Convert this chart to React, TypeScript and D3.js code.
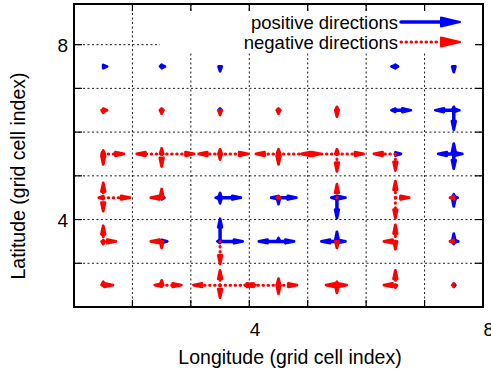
import React, { useEffect, useRef } from "react";
import * as d3 from "d3";

// grid cell centres (columns = longitude, rows = latitude, top row first)
const lonCenters = [1.5, 2.5, 3.5, 4.5, 5.5, 6.5, 7.5];
const latCenters = [7.5, 6.5, 5.5, 4.5, 3.5, 2.5];
const xTicks = [1, 2, 3, 4, 5, 6, 7, 8];
const yTicks = [2, 3, 4, 5, 6, 7, 8];
const xTickLabels = [4, 8];
const yTickLabels = [4, 8];

// signed flux per direction (cell units); > 0 drawn blue, < 0 drawn red dotted
const eastFlux = [
  [0.09, 0.08, 0, 0, 0, 0.07, 0],
  [-0.09, 0, 0, 0, 0, 0.29, 0.12],
  [-0.38, -0.58, -0.5, -0.74, -0.48, 0.12, 0.17],
  [-0.48, 0.07, 0.38, 0.33, 0.17, -0.26, 0.09],
  [-0.24, 0.12, 0.41, 0.29, 0.17, 0, 0.1],
  [-0.19, -0.36, -0.63, -0.34, -0.19, 0, 0.05],
];
const westFlux = [
  [0, 0, 0, 0, 0, 0.09, 0],
  [0, 0, 0, 0, 0, 0.09, 0.34],
  [0, -0.45, -0.39, -0.41, -0.63, -0.39, 0.29],
  [-0.1, -0.21, 0.1, 0.15, 0.12, 0, -0.09],
  [-0.03, -0.21, 0.07, 0.36, 0.29, -0.22, -0.09],
  [0, -0.14, -0.48, -0.6, -0.21, -0.22, -0.05],
];
const northFlux = [
  [0, 0.07, 0, 0, 0, 0, 0],
  [0, -0.07, 0.07, -0.07, -0.11, 0, 0.11],
  [-0.11, -0.16, -0.14, -0.14, -0.14, 0, 0.27],
  [-0.37, -0.23, 0.14, -0.07, -0.34, -0.41, 0.11],
  [-0.39, 0, 0.55, 0.11, 0.25, -0.41, 0.21],
  [-0.11, -0.14, -0.37, -0.18, -0.11, -0.37, 0],
];
const southFlux = [
  [0, 0, 0.14, 0, 0, 0, 0.16],
  [-0.09, -0.11, -0.14, -0.11, -0.18, 0, 0.48],
  [-0.27, -0.32, -0.16, -0.27, -0.43, -0.41, 0.37],
  [-0.34, 0, 0.16, 0.18, 0.5, -0.5, 0.23],
  [-0.09, -0.18, -0.55, 0, -0.18, -0.21, 0.09],
  [0, 0, -0.32, -0.23, -0.21, -0.09, 0],
];

const legendLabels = ["positive directions", "negative directions"];

const BLUE = "#0000ff";
const RED = "#ff0000";
const FONT = "'Liberation Sans', Arial, sans-serif";

const App = () => {
  const ref = useRef<SVGSVGElement>(null);

  useEffect(() => {
    const width = 491;
    const height = 376;
    const margin = { top: 4, right: 8, bottom: 69, left: 74 };

    const svg = d3.select(ref.current);
    svg.selectAll("*").remove();

    const x = d3.scaleLinear().domain([1, 8]).range([margin.left, width - margin.right]);
    const y = d3.scaleLinear().domain([2, 8.93]).range([height - margin.bottom, margin.top]);
    const [x0, x1] = x.range();
    const [y0, y1] = y.range();

    // grid
    const grid = svg.append("g").attr("stroke", "#000").attr("stroke-width", 0.9).attr("stroke-dasharray", "2,2.5");
    grid.selectAll(".vg").data(xTicks.slice(1, -1)).enter().append("line")
      .attr("x1", (d) => x(d)).attr("x2", (d) => x(d)).attr("y1", y1).attr("y2", y0);
    grid.selectAll(".hg").data(yTicks.slice(1)).enter().append("line")
      .attr("x1", x0).attr("x2", x1).attr("y1", (d) => y(d)).attr("y2", (d) => y(d));

    // legend box hides the grid underneath
    svg.append("rect").attr("x", 160).attr("y", 13).attr("width", 318).attr("height", 39).attr("fill", "#fff");

    const drawArrow = (
      g: any, ax: number, ay: number, bx: number, by: number,
      color: string, dotted: boolean, headLen = 10, headW = 1.8
    ) => {
      const dx = bx - ax, dy = by - ay;
      const len = Math.hypot(dx, dy);
      if (len < 0.5) return;
      const ux = dx / len, uy = dy / len;
      const hl = Math.min(headLen, len);
      const hw = Math.max(1.6, (headW * hl) / headLen);
      const cx = bx - ux * hl, cy = by - uy * hl;
      if (len > hl) {
        g.append("line")
          .attr("x1", ax).attr("y1", ay).attr("x2", cx).attr("y2", cy)
          .attr("stroke", color)
          .attr("stroke-width", dotted ? 3 : 3.5)
          .attr("stroke-linecap", "round")
          .attr("stroke-dasharray", dotted ? "0.5,4.5" : null);
      }
      // rounded head: triangle with a thick round-joined outline
      const sw = headLen > 12 ? 2 : 2.8;
      const tx = bx - ux * sw * 0.5, ty = by - uy * sw * 0.5;
      g.append("path")
        .attr("d", `M${tx},${ty}L${cx - uy * hw},${cy + ux * hw}L${cx + uy * hw},${cy - ux * hw}Z`)
        .attr("fill", color).attr("stroke", color)
        .attr("stroke-width", sw).attr("stroke-linejoin", "round");
    };

    const dirs = [
      { vals: eastFlux, ex: 1, ey: 0 },
      { vals: westFlux, ex: -1, ey: 0 },
      { vals: northFlux, ex: 0, ey: 1 },
      { vals: southFlux, ex: 0, ey: -1 },
    ];

    // positive first, negative on top
    [1, -1].forEach((sign) => {
      const g = svg.append("g");
      latCenters.forEach((lat, r) => {
        lonCenters.forEach((lon, c) => {
          dirs.forEach(({ vals, ex, ey }) => {
            const v = vals[r][c];
            if (v === 0 || Math.sign(v) !== sign) return;
            const m = Math.abs(v);
            drawArrow(g, x(lon), y(lat), x(lon + ex * m), y(lat + ey * m), sign > 0 ? BLUE : RED, sign < 0);
          });
        });
      });
    });

    // legend
    const legend = svg.append("g").attr("font-family", FONT).attr("font-size", 18.5);
    legendLabels.forEach((label, i) => {
      const ly = 22 + i * 20;
      legend.append("text").attr("x", 398).attr("y", ly + 6.5).attr("text-anchor", "end").text(label);
      drawArrow(legend, 401, ly, 461, ly, i === 0 ? BLUE : RED, i === 1, 20, 4.5);
    });

    // border + ticks
    const axes = svg.append("g").attr("stroke", "#000");
    xTicks.slice(1, -1).forEach((t) => {
      axes.append("line").attr("x1", x(t)).attr("x2", x(t)).attr("y1", y0).attr("y2", y0 - 7).attr("stroke-width", 1.2);
      axes.append("line").attr("x1", x(t)).attr("x2", x(t)).attr("y1", y1).attr("y2", y1 + 7).attr("stroke-width", 1.2);
    });
    yTicks.slice(1).forEach((t) => {
      axes.append("line").attr("x1", x0).attr("x2", x0 + 8).attr("y1", y(t)).attr("y2", y(t)).attr("stroke-width", 1.2);
      axes.append("line").attr("x1", x1).attr("x2", x1 - 8).attr("y1", y(t)).attr("y2", y(t)).attr("stroke-width", 1.2);
    });
    axes.append("rect").attr("x", x0).attr("y", y1).attr("width", x1 - x0).attr("height", y0 - y1)
      .attr("fill", "none").attr("stroke-width", 2);

    // tick labels
    const labels = svg.append("g").attr("font-family", FONT).attr("font-size", 19).attr("fill", "#000");
    xTickLabels.forEach((t) => {
      labels.append("text").attr("x", x(t) + 0.5).attr("y", y0 + 29).text(t);
    });
    yTickLabels.forEach((t) => {
      labels.append("text").attr("x", x0 - 6).attr("y", y(t) + 7).attr("text-anchor", "end").text(t);
    });

    // axis titles
    labels.append("text").attr("x", 290).attr("y", 364).attr("font-size", 19.5)
      .attr("text-anchor", "middle").text("Longitude (grid cell index)");
    labels.append("text")
      .attr("transform", `translate(25,176) rotate(-90)`)
      .attr("font-size", 19.5)
      .attr("text-anchor", "middle")
      .text("Latitude (grid cell index)");
  }, []);

  return (
    <svg
      ref={ref}
      width={491}
      height={376}
      style={{ position: "absolute", left: 0, top: 0, background: "#fff" }}
    />
  );
};

export default App;
